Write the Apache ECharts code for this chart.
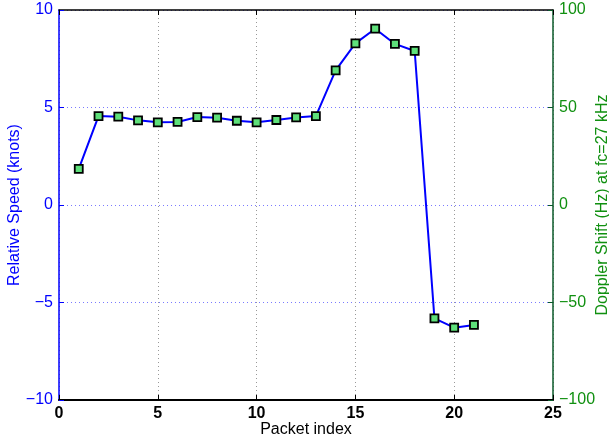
<!DOCTYPE html>
<html>
<head>
<meta charset="utf-8">
<script src="https://cdn.jsdelivr.net/npm/echarts@6/dist/echarts.min.js"></script>
<style>
  html, body { margin: 0; padding: 0; background: #fff; }
  #chart { width: 609px; height: 440px; }
</style>
</head>
<body>
<div id="chart"></div>
<script>
// Packet index and the relative speed measured for each packet (knots)
const packetIndex = [1, 2, 3, 4, 5, 6, 7, 8, 9, 10, 11, 12, 13, 14, 15, 16, 17, 18, 19, 20, 21];
const speedKnots = [1.85, 4.56, 4.53, 4.34, 4.24, 4.26, 4.51, 4.48, 4.32, 4.24, 4.36, 4.49, 4.56,
                    6.9, 8.29, 9.04, 8.26, 7.9, -5.81, -6.29, -6.15];

const FONT = 'Liberation Sans, Arial, Helvetica, sans-serif';
const BLUE = '#0000ff';
const GREEN = '#109010';
const minus = v => String(v).replace('-', '\u2212');

const chart = echarts.init(document.getElementById('chart'), null, { renderer: 'canvas' });

chart.setOption({
  animation: false,
  backgroundColor: '#ffffff',
  grid: { left: 59, right: 56, top: 10, bottom: 40, containLabel: false, outerBoundsMode: 'none' },
  xAxis: [
    {
      type: 'value', min: 0, max: 25, interval: 5, position: 'bottom',
      name: 'Packet index', nameLocation: 'middle', nameGap: 22, nameMoveOverlap: false,
      nameTextStyle: { color: '#000', fontFamily: FONT, fontSize: 16, verticalAlign: 'top' },
      axisLine: { onZero: false, lineStyle: { color: '#000', width: 2 } },
      axisTick: { inside: true, length: 5, lineStyle: { color: '#000' } },
      axisLabel: { color: '#000', fontFamily: FONT, fontSize: 16, fontWeight: 'bold', margin: 6 },
      splitLine: { show: true, lineStyle: { color: '#999', type: [1, 3], width: 1 } }
    },
    {
      type: 'value', min: 0, max: 25, interval: 5, position: 'top',
      axisLine: { onZero: false, lineStyle: { color: '#000', width: 1.5 } },
      axisTick: { inside: true, length: 5, lineStyle: { color: '#000' } },
      axisLabel: { show: false },
      splitLine: { show: false }
    }
  ],
  yAxis: [
    {
      type: 'value', min: -10, max: 10, interval: 5, position: 'left',
      name: 'Relative Speed (knots)', nameLocation: 'middle', nameGap: 36, nameRotate: 90,
      nameMoveOverlap: false,
      nameTextStyle: { color: BLUE, fontFamily: FONT, fontSize: 16 },
      axisLine: { show: true, onZero: false, lineStyle: { color: BLUE, width: 1.5 } },
      axisTick: { inside: true, length: 5, lineStyle: { color: BLUE } },
      axisLabel: { color: BLUE, fontFamily: FONT, fontSize: 16, margin: 6, formatter: minus },
      splitLine: { show: true, lineStyle: { color: '#7a7aff', type: [1, 3], width: 1 } }
    },
    {
      type: 'value', min: -100, max: 100, interval: 50, position: 'right',
      name: 'Doppler Shift (Hz) at fc=27 kHz', nameLocation: 'middle', nameGap: 42, nameRotate: 90,
      nameMoveOverlap: false,
      nameTextStyle: { color: GREEN, fontFamily: FONT, fontSize: 16 },
      axisLine: { show: true, onZero: false, lineStyle: { color: '#0b5a2a', width: 1.5 } },
      axisTick: { inside: true, length: 5, lineStyle: { color: '#0b5a2a' } },
      axisLabel: { color: GREEN, fontFamily: FONT, fontSize: 16, margin: 6, formatter: minus },
      splitLine: { show: false }
    }
  ],
  series: [
    {
      type: 'line',
      xAxisIndex: 0, yAxisIndex: 0,
      data: packetIndex.map((p, i) => [p, speedKnots[i]]),
      symbol: 'rect', symbolSize: 8,
      lineStyle: { color: BLUE, width: 2 },
      itemStyle: { color: '#5ee07a', borderColor: '#000', borderWidth: 1.8 }
    }
  ]
});
</script>
</body>
</html>
